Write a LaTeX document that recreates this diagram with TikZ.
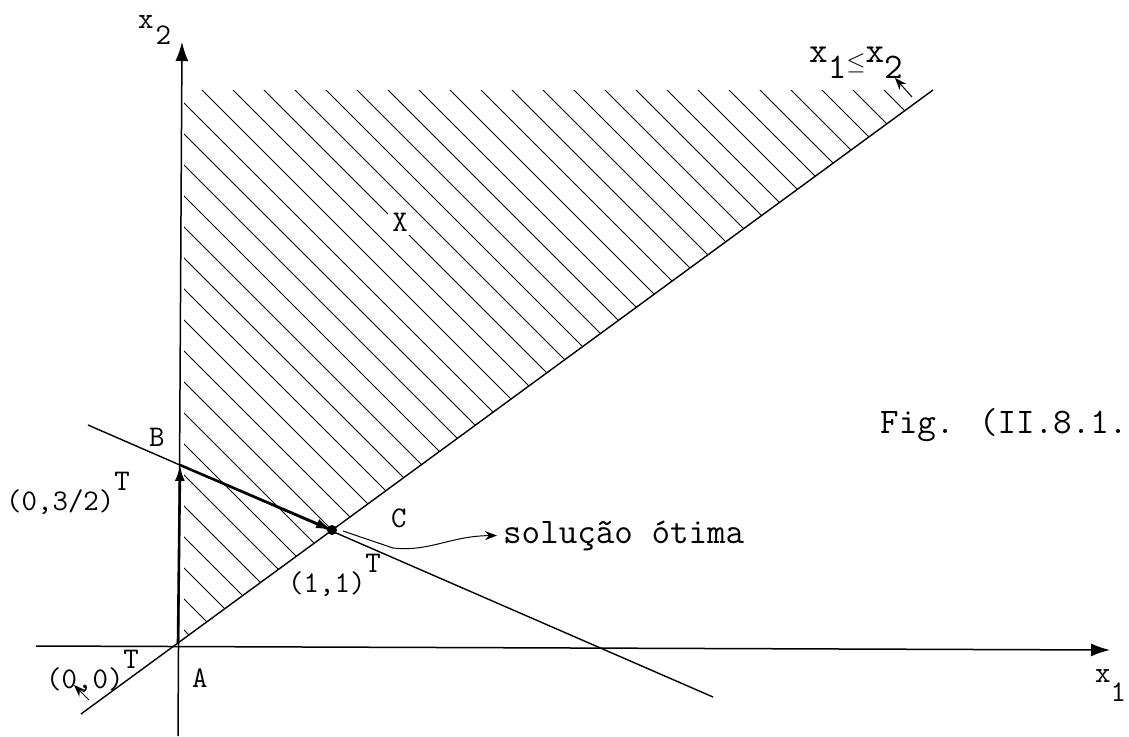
\documentclass[tikz,border=0pt]{standalone}
\usepackage{fontspec}
\usepackage{amsmath}
\usetikzlibrary{arrows.meta}
\tikzset{axis/.style={line width=1.5pt,-{Latex[length=19pt,width=13pt]}},
  bnd/.style={line width=1.4pt},
  hatch/.style={line width=1pt},
  vec/.style={line width=2.6pt,-{Latex[length=16pt,width=10pt]}},
  ptr/.style={line width=1pt,-{Stealth[length=12pt,width=9pt]}},
  lbl/.style={font=\ttfamily\fontsize{30}{36}\selectfont,inner sep=0pt,anchor=base west},
  word/.style={font=\ttfamily\fontsize{36}{42}\selectfont,inner sep=0pt,anchor=base west}}
\newcommand{\upT}{\raisebox{.66em}{T}}

\begin{document}
\begin{tikzpicture}[x=1pt,y=-1pt]
\useasboundingbox (0,0) rectangle (1129,736);
\clip (0,0) rectangle (1129,736);
% points and line ends
\coordinate (A) at (178,643);
\coordinate (B) at (180,465);
\coordinate (C) at (332,530);
\coordinate (x1s) at (36,646);
\coordinate (x1e) at (1110,650);
\coordinate (x2s) at (178,736);
\coordinate (x2e) at (182,42);
\coordinate (dg1) at (81,714);
\coordinate (dg2) at (933,90);
\coordinate (bc1) at (88,425);
\coordinate (bc2) at (713,697);
% feasible set X
\begin{scope}
 \clip (184,90) -- (933,90) -- (184,639) -- cycle;
 \foreach \c in {-446,-415,...,794} {
   \draw[hatch] (\c,0) -- ({\c+736},736);}
\end{scope}
\node[lbl,anchor=center,fill=white,inner sep=4pt] (X) at (400,222) {X};
% lines
\draw[bnd] (dg1) -- (dg2);
\draw[bnd] (bc1) -- (bc2);
\draw[axis] (x1s) -- (x1e);
\draw[axis] (x2s) -- (x2e);
\draw[vec] (A) -- (B);
\draw[vec] (B) -- (C);
\fill (C) circle (5pt);
% labels
\node[lbl] (lx2) at (138,28) {x\hspace{2pt}\raisebox{-.55em}{2}};
\node[lbl] (lx1) at (1095,682) {x\raisebox{-.65em}{1}};
\node[word] (lrel) at (809,62) {x\raisebox{-.45em}{1}\raisebox{-.2em}{\fontsize{24}{24}\selectfont$\le$}x\raisebox{-.45em}{2}};
\node[lbl] (lB) at (149,446) {B};
\node[lbl] (lA) at (192,687) {A};
\node[lbl] (lC) at (391,527) {C};
\node[lbl] (lp0) at (46,688) {(0,0)\upT};
\node[lbl] (lpB) at (6,510) {(0,3/2)\upT};
\node[lbl] (lpC) at (288,592) {(1,1)\upT};
\node[word] (sol) at (503,543) {solução ótima};
\node[word] (fig) at (880,433) {Fig. (II.8.1.};
% pointers
\coordinate (p0s) at (89,700);
\coordinate (p0e) at (74,685);
\draw[ptr] (p0s) -- (p0e);
\coordinate (prs) at (912,97);
\coordinate (pre) at (895,78);
\draw[ptr] (prs) -- (pre);
\coordinate (cs) at (343,531);
\coordinate (ck) at (393,548);
\draw[ptr] (cs) -- (ck) .. controls (430,552) and (450,536) .. ([xshift=-6pt]sol.west);
\end{tikzpicture}
\end{document}
